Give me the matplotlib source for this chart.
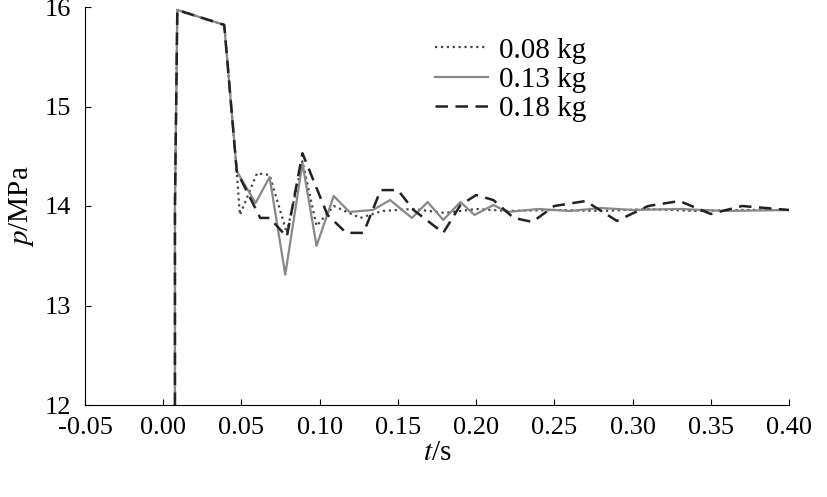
import numpy as np
import matplotlib.pyplot as plt

plt.rcParams['font.family'] = ['Liberation Serif', 'DejaVu Serif']
plt.rcParams['mathtext.fontset'] = 'stix'

t_a = [0.0075, 0.0075, 0.009, 0.039, 0.047, 0.049, 0.06, 0.068, 0.079, 0.089, 0.098, 0.109, 0.126,
       0.14, 0.16, 0.18, 0.2, 0.22, 0.25, 0.28, 0.31, 0.34, 0.37, 0.40]
p_a = [12.0, 14.0, 15.97, 15.82, 14.35, 13.91, 14.33, 14.31, 13.73, 14.45, 13.8, 14.0, 13.88,
       13.95, 13.97, 13.93, 13.97, 13.95, 13.96, 13.95, 13.97, 13.95, 13.96, 13.96]

t_b = [0.0075, 0.0075, 0.009, 0.039, 0.047, 0.059, 0.068, 0.078, 0.089, 0.098, 0.109, 0.119, 0.134,
       0.145, 0.159, 0.169, 0.179, 0.19, 0.199, 0.211, 0.22, 0.24, 0.26, 0.28, 0.30, 0.33, 0.36, 0.40]
p_b = [12.0, 14.0, 15.97, 15.82, 14.35, 14.03, 14.29, 13.31, 14.43, 13.6, 14.1, 13.94, 13.96,
       14.06, 13.88, 14.04, 13.86, 14.04, 13.91, 14.01, 13.94, 13.97, 13.95, 13.98, 13.96, 13.97, 13.95, 13.96]

t_c = [0.0075, 0.0075, 0.009, 0.039, 0.047, 0.062, 0.068, 0.079, 0.089, 0.105, 0.117, 0.128, 0.139,
       0.15, 0.16, 0.179, 0.19, 0.2, 0.211, 0.224, 0.236, 0.25, 0.27, 0.29, 0.31, 0.33, 0.35, 0.37, 0.40]
p_c = [12.0, 14.0, 15.97, 15.82, 14.35, 13.88, 13.88, 13.69, 14.53, 13.91, 13.73, 13.73, 14.16,
       14.16, 13.96, 13.73, 14.01, 14.11, 14.06, 13.88, 13.84, 14.0, 14.05, 13.85, 14.0, 14.05, 13.92, 14.0, 13.96]

fig = plt.figure(figsize=(8.28, 4.97), dpi=100)
ax = fig.add_axes([85/828, 1-405/497, (789-85)/828, (405-7)/497])
ax.plot(t_a, p_a, ':', color='#444444', lw=1.6, label='0.08 kg')
ax.plot(t_b, p_b, '-', color='#888888', lw=1.6, label='0.13 kg')
ax.plot(t_c, p_c, '--', color='#222222', lw=1.8, dashes=(5, 3), label='0.18 kg')

ax.set_xlim(-0.05, 0.40)
ax.set_ylim(12, 16)
ax.set_xticks(np.arange(-0.05, 0.401, 0.05))
ax.set_xticklabels(['-0.05', '0.00', '0.05', '0.10', '0.15', '0.20', '0.25', '0.30', '0.35', '0.40'])
ax.set_yticks([12, 13, 14, 15, 16])
ax.tick_params(labelsize=19, direction='in', length=4)
ax.tick_params(axis='x', pad=9)
ax.tick_params(axis='y', pad=10)
ax.spines['top'].set_visible(False)
ax.spines['right'].set_visible(False)
ax.set_xlabel('$t$/s', fontsize=21, labelpad=0)
ax.set_ylabel('$p$/MPa', fontsize=21, labelpad=6)
ax.legend(loc='upper left', bbox_to_anchor=(0.46, 0.99), frameon=False, fontsize=21,
          handlelength=1.8, labelspacing=0.1, handletextpad=0.4)
fig.savefig('out.png', dpi=100)
